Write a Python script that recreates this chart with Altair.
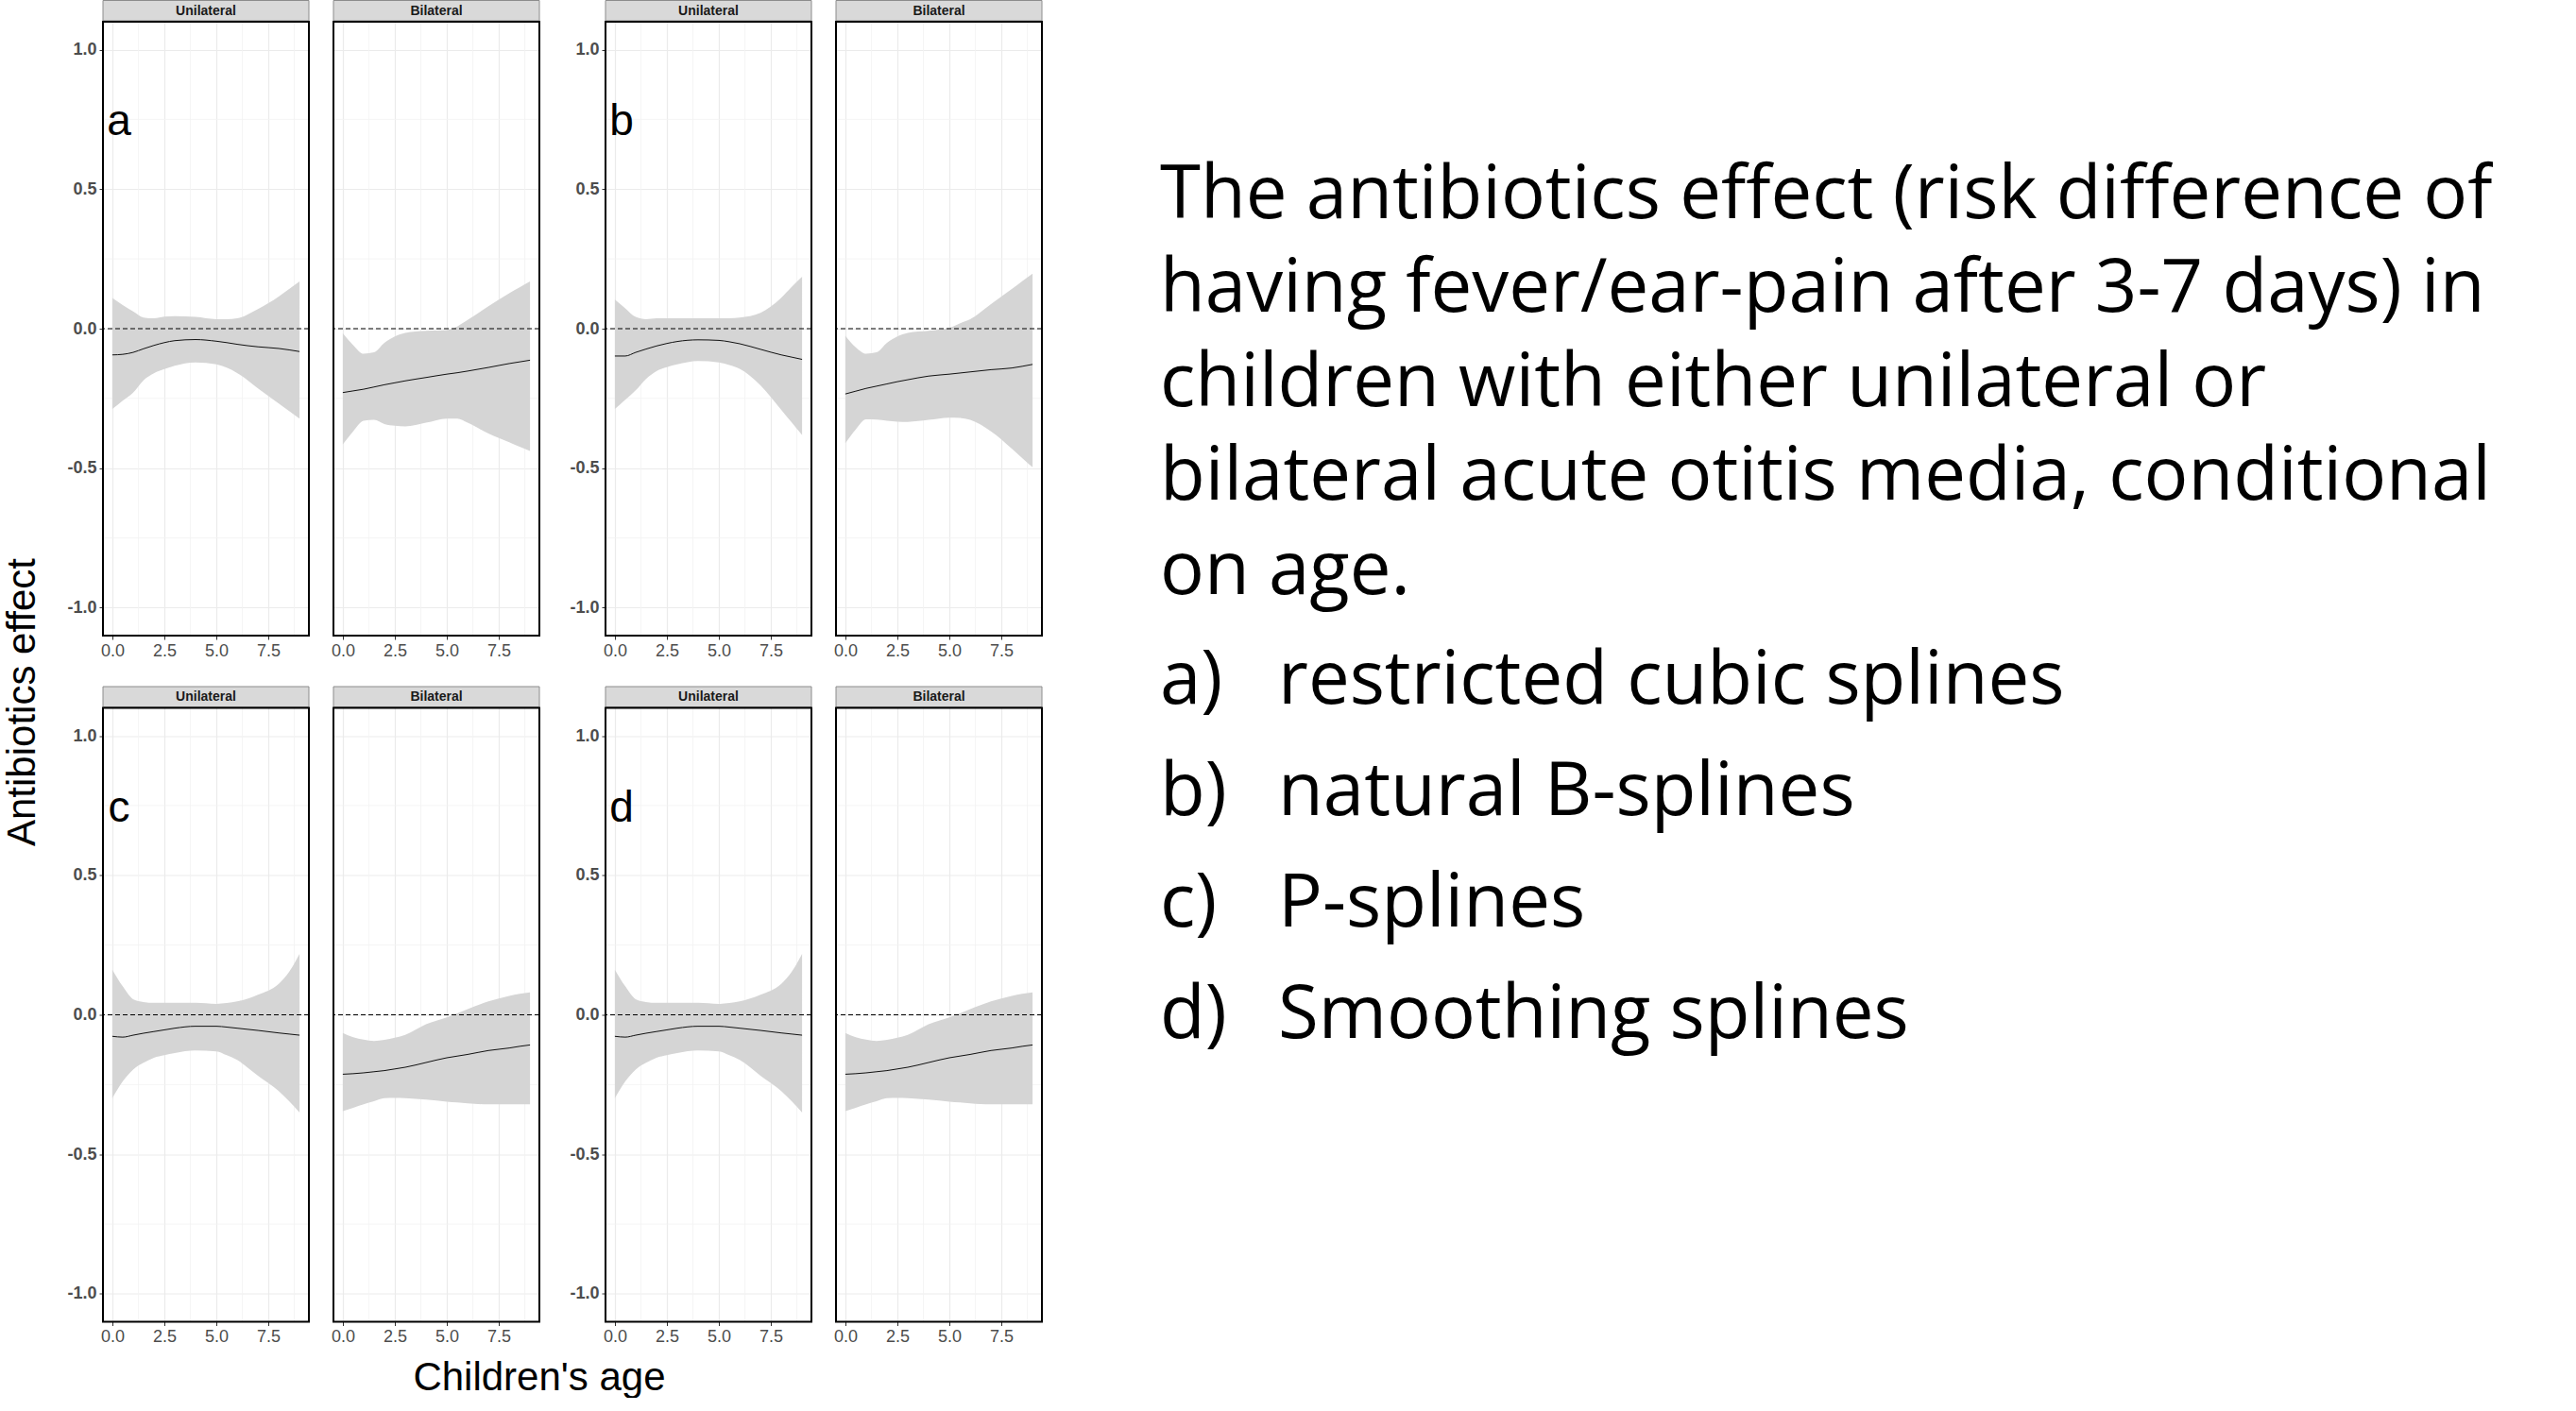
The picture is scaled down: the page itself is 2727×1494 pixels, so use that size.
import altair as alt
import pandas as pd

# ---------------- data ----------------
ages = [0, 0.5, 1, 1.5, 2, 2.5, 3, 4, 5, 5.5, 6, 7, 8, 8.5, 9]

a_uni_fit = [-0.094, -0.092, -0.085, -0.072, -0.060, -0.050, -0.043, -0.039, -0.045, -0.050, -0.056, -0.065, -0.071, -0.076, -0.082]
a_uni_hi = [0.110, 0.085, 0.062, 0.040, 0.037, 0.043, 0.045, 0.042, 0.034, 0.034, 0.037, 0.070, 0.115, 0.142, 0.169]
a_uni_lo = [-0.288, -0.258, -0.229, -0.185, -0.160, -0.145, -0.133, -0.121, -0.128, -0.140, -0.159, -0.214, -0.268, -0.295, -0.322]

a_bil_fit = [-0.229, -0.223, -0.217, -0.209, -0.201, -0.194, -0.187, -0.175, -0.163, -0.158, -0.152, -0.139, -0.125, -0.119, -0.113]
a_bil_hi = [-0.017, -0.059, -0.090, -0.085, -0.051, -0.028, -0.015, -0.008, -0.005, 0.008, 0.031, 0.080, 0.127, 0.148, 0.169]
a_bil_lo = [-0.415, -0.368, -0.330, -0.327, -0.342, -0.348, -0.350, -0.337, -0.322, -0.322, -0.337, -0.376, -0.407, -0.423, -0.438]

b_uni_fit = [-0.098, -0.098, -0.085, -0.073, -0.062, -0.053, -0.046, -0.040, -0.042, -0.047, -0.054, -0.074, -0.094, -0.102, -0.110]
b_uni_hi = [0.104, 0.073, 0.042, 0.034, 0.037, 0.037, 0.037, 0.037, 0.037, 0.037, 0.040, 0.057, 0.111, 0.150, 0.186]
b_uni_lo = [-0.288, -0.255, -0.221, -0.180, -0.152, -0.138, -0.128, -0.116, -0.121, -0.130, -0.144, -0.203, -0.291, -0.336, -0.381]

b_bil_fit = [-0.234, -0.224, -0.214, -0.206, -0.198, -0.190, -0.183, -0.170, -0.163, -0.159, -0.155, -0.147, -0.141, -0.135, -0.128]
b_bil_hi = [-0.025, -0.067, -0.090, -0.085, -0.051, -0.028, -0.015, -0.008, 0.003, 0.019, 0.034, 0.088, 0.142, 0.170, 0.197]
b_bil_lo = [-0.410, -0.361, -0.325, -0.326, -0.330, -0.333, -0.334, -0.327, -0.319, -0.320, -0.327, -0.368, -0.430, -0.464, -0.497]

c_uni_fit = [-0.077, -0.080, -0.073, -0.066, -0.060, -0.054, -0.048, -0.041, -0.041, -0.044, -0.048, -0.056, -0.065, -0.069, -0.073]
c_uni_hi = [0.162, 0.102, 0.056, 0.046, 0.043, 0.043, 0.043, 0.043, 0.039, 0.042, 0.048, 0.072, 0.111, 0.154, 0.218]
c_uni_lo = [-0.299, -0.239, -0.196, -0.172, -0.154, -0.145, -0.137, -0.128, -0.131, -0.145, -0.162, -0.218, -0.273, -0.310, -0.350]

c_bil_fit = [-0.213, -0.211, -0.208, -0.204, -0.200, -0.194, -0.188, -0.171, -0.154, -0.148, -0.142, -0.128, -0.119, -0.113, -0.108]
c_bil_hi = [-0.065, -0.080, -0.089, -0.094, -0.090, -0.082, -0.072, -0.034, -0.009, 0.005, 0.020, 0.048, 0.068, 0.075, 0.080]
c_bil_lo = [-0.345, -0.333, -0.321, -0.310, -0.299, -0.298, -0.299, -0.304, -0.311, -0.314, -0.317, -0.321, -0.321, -0.321, -0.321]

d_uni_fit = [-0.077, -0.080, -0.073, -0.066, -0.060, -0.054, -0.048, -0.041, -0.041, -0.044, -0.048, -0.056, -0.065, -0.069, -0.073]
d_uni_hi = [0.162, 0.102, 0.056, 0.046, 0.043, 0.043, 0.043, 0.043, 0.039, 0.042, 0.048, 0.072, 0.111, 0.154, 0.218]
d_uni_lo = [-0.299, -0.239, -0.196, -0.172, -0.154, -0.145, -0.137, -0.128, -0.131, -0.145, -0.162, -0.218, -0.273, -0.310, -0.350]

d_bil_fit = [-0.213, -0.211, -0.208, -0.204, -0.200, -0.194, -0.188, -0.171, -0.154, -0.148, -0.142, -0.128, -0.119, -0.113, -0.108]
d_bil_hi = [-0.065, -0.080, -0.089, -0.094, -0.090, -0.082, -0.072, -0.034, -0.009, 0.005, 0.020, 0.048, 0.068, 0.075, 0.080]
d_bil_lo = [-0.345, -0.333, -0.321, -0.310, -0.299, -0.298, -0.299, -0.304, -0.311, -0.314, -0.317, -0.321, -0.321, -0.321, -0.321]

x_major = [0, 2.5, 5, 7.5]
x_minor = [1.25, 3.75, 6.25, 8.75]
y_major = [-1.0, -0.5, 0.0, 0.5, 1.0]
y_minor = [-0.75, -0.25, 0.25, 0.75]
reference_line = [0.0]
strip_labels = ["Unilateral", "Bilateral"]
panel_letters = ["a", "b", "c", "d"]
y_title = "Antibiotics effect"
x_title = "Children's age"
caption_lines = [
    "The antibiotics effect (risk difference of",
    "having fever/ear-pain after 3-7 days) in",
    "children with either unilateral or",
    "bilateral acute otitis media, conditional",
    "on age.",
]
list_marks = ["a)", "b)", "c)", "d)"]
list_items = ["restricted cubic splines", "natural B-splines", "P-splines", "Smoothing splines"]

# ---------------- styling / layout ----------------
FONT = "Liberation Sans"
CAP_FONT = "Open Sans"
CAP_SIZE = 78
PW, PH, SH = 218, 650, 22.5
LEFT, TOP = 109, 22.5          # where the first panel's plot area starts
XS = alt.Scale(domain=[-0.45, 9.45], nice=False, zero=False)
YS = alt.Scale(domain=[-1.1, 1.1], nice=False, zero=False)
MINUS_FIX = "replace(datum.label, '\u2212', '-')"


def x_axis():
    return alt.Axis(values=x_major, format=".1f", title=None, grid=True, domain=False,
                    gridColor="#EBEBEB", gridWidth=1.2, tickSize=4, tickColor="#333333",
                    tickWidth=1, labelFont=FONT, labelFontSize=18, labelColor="#4D4D4D",
                    labelPadding=3, labelFlush=False, labelExpr=MINUS_FIX)


def y_axis(show):
    if show:
        return alt.Axis(values=y_major, format=".1f", title=None, grid=True, domain=False,
                        gridColor="#EBEBEB", gridWidth=1.2, tickSize=4, tickColor="#333333",
                        tickWidth=1, labelFont=FONT, labelFontSize=18, labelFontWeight="bold",
                        labelColor="#4D4D4D", labelPadding=3, labelFlush=False, labelExpr=MINUS_FIX)
    return alt.Axis(values=y_major, title=None, grid=True, domain=False, labels=False,
                    ticks=False, gridColor="#EBEBEB", gridWidth=1.2)


def text_layer(txt, x, y, size, font=FONT, angle=None, align="center", baseline="middle",
               weight="normal", color="black", line_height=None):
    kw = dict(font=font, fontSize=size, color=color, align=align, baseline=baseline,
              fontWeight=weight)
    if angle is not None:
        kw["angle"] = angle
    if line_height is not None:
        kw["lineBreak"] = "\n"
        kw["lineHeight"] = line_height
    return alt.Chart(pd.DataFrame({"t": [txt]})).mark_text(**kw).encode(
        text="t:N", x=alt.value(x), y=alt.value(y))


def panel(fit, lo, hi, strip, show_y, letter=None, extras=()):
    df = pd.DataFrame({"age": ages, "fit": fit, "lo": lo, "hi": hi})
    X = alt.X("age:Q", scale=XS, axis=x_axis())
    vminor = alt.Chart(pd.DataFrame({"age": x_minor})).mark_rule(
        color="#F2F2F2", strokeWidth=0.8).encode(x=X)
    hminor = alt.Chart(pd.DataFrame({"eff": y_minor})).mark_rule(
        color="#F2F2F2", strokeWidth=0.8).encode(y=alt.Y("eff:Q", scale=YS, axis=y_axis(show_y)))
    band = alt.Chart(df).mark_area(color="#D5D5D5", interpolate="monotone").encode(
        x=X, y=alt.Y("lo:Q", scale=YS, axis=y_axis(show_y)), y2="hi:Q")
    line = alt.Chart(df).mark_line(color="#111111", strokeWidth=1, interpolate="monotone").encode(
        x=X, y=alt.Y("fit:Q", scale=YS, axis=y_axis(show_y)))
    zero = alt.Chart(pd.DataFrame({"eff": reference_line})).mark_rule(
        color="black", strokeWidth=1, strokeDash=[5, 3]).encode(
        y=alt.Y("eff:Q", scale=YS, axis=y_axis(show_y)))
    # facet strip drawn above the plot area
    strip_df = pd.DataFrame({"s": [strip]})
    strip_box = alt.Chart(strip_df).mark_rect(
        fill="#D9D9D9", stroke="#8C8C8C", strokeWidth=1).encode(
        x=alt.value(0), x2=alt.value(PW), y=alt.value(-SH), y2=alt.value(-1))
    strip_txt = alt.Chart(strip_df).mark_text(
        font=FONT, fontSize=14, fontWeight="bold", color="#1A1A1A", align="center",
        baseline="middle").encode(text="s:N", x=alt.value(PW / 2), y=alt.value(-SH / 2))
    border = alt.Chart(strip_df).mark_rect(
        fillOpacity=0, stroke="black", strokeWidth=2).encode(
        x=alt.value(0), x2=alt.value(PW), y=alt.value(0), y2=alt.value(PH))
    layers = [vminor, hminor, band, line, zero, strip_box, strip_txt, border]
    if letter is not None:
        txt = alt.Chart(pd.DataFrame({"label": [letter]})).mark_text(
            font=FONT, fontSize=46, color="black", align="center", baseline="middle").encode(
            x=alt.XDatum(0.32, scale=XS, axis=x_axis()),
            y=alt.YDatum(0.74, scale=YS, axis=y_axis(show_y)),
            text="label:N")
        layers.append(txt)
    layers.extend(extras)
    return alt.layer(*layers).properties(width=PW, height=PH)


def spacer():
    return alt.Chart(pd.DataFrame({"t": [""]})).mark_text().encode(
        text="t:N", x=alt.value(0), y=alt.value(0)).properties(width=18, height=PH)


# invisible anchor fixing the page's top-left corner
anchor = alt.Chart(pd.DataFrame({"t": [""]})).mark_rect(fillOpacity=0, strokeOpacity=0).encode(
    x=alt.value(-LEFT), x2=alt.value(0), y=alt.value(-TOP), y2=alt.value(0))

# titles placed relative to panel c (plot area starts at x=109, y=749)
ytitle = text_layer(y_title, 24 - LEFT, 743 - 749, 42, angle=270)
xtitle = text_layer(x_title, 571 - LEFT, 1458 - 749, 42)

# caption placed relative to panel b-bilateral (plot area starts at x=885, y=22.5)
CX, CY = 885, 22.5
para = text_layer("\n".join(caption_lines), 1228 - CX, 230 - CY, CAP_SIZE, font=CAP_FONT,
                  align="left", baseline="alphabetic", line_height=99.5)
marks = text_layer("\n".join(list_marks), 1228 - CX, 744 - CY, CAP_SIZE, font=CAP_FONT,
                   align="left", baseline="alphabetic", line_height=118)
items = text_layer("\n".join(list_items), 1353 - CX, 744 - CY, CAP_SIZE, font=CAP_FONT,
                   align="left", baseline="alphabetic", line_height=118)

U, B = strip_labels
cells = [
    panel(a_uni_fit, a_uni_lo, a_uni_hi, U, True, panel_letters[0], extras=[anchor]),
    panel(a_bil_fit, a_bil_lo, a_bil_hi, B, False),
    spacer(),
    panel(b_uni_fit, b_uni_lo, b_uni_hi, U, True, panel_letters[1]),
    panel(b_bil_fit, b_bil_lo, b_bil_hi, B, False, extras=[para, marks, items]),
    panel(c_uni_fit, c_uni_lo, c_uni_hi, U, True, panel_letters[2], extras=[ytitle, xtitle]),
    panel(c_bil_fit, c_bil_lo, c_bil_hi, B, False),
    spacer(),
    panel(d_uni_fit, d_uni_lo, d_uni_hi, U, True, panel_letters[3]),
    panel(d_bil_fit, d_bil_lo, d_bil_hi, B, False),
]

chart = alt.concat(
    *cells, columns=5, spacing={"row": 76.5, "column": 26}, bounds="flush", align="each"
).properties(padding=0, background="white").configure(font=FONT).configure_view(strokeWidth=0)

chart.save("out.html", embed_options={"renderer": "svg", "actions": False})
